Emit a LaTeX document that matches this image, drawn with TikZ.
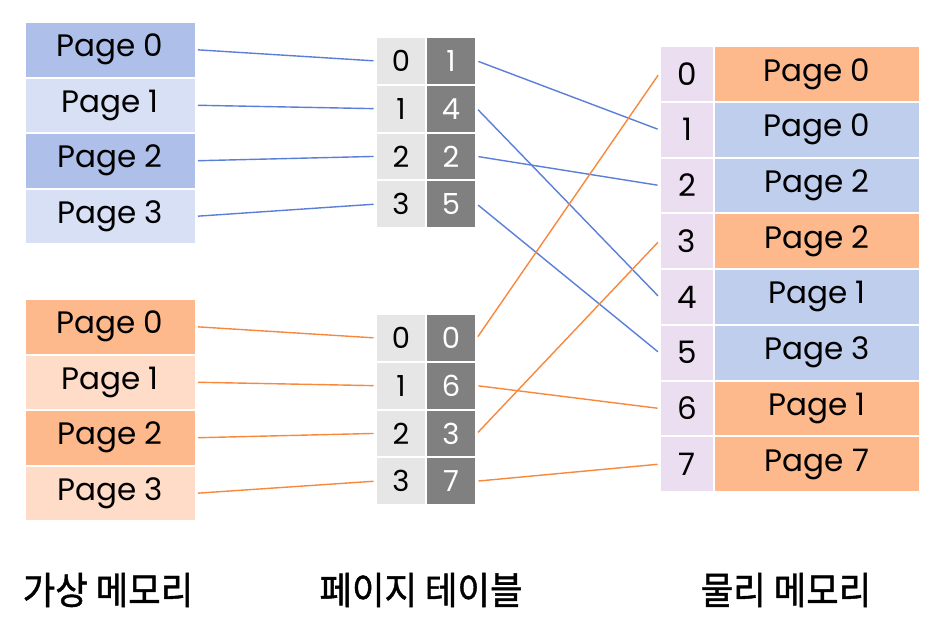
\documentclass[tikz,border=0pt]{standalone}
\usepackage{fontspec}
\setmainfont{Poppins}
\newfontfamily\krfont{Noto Sans CJK KR}[FakeBold=1.2]
\definecolor{vbdark}{HTML}{AEC0E9}
\definecolor{vblight}{HTML}{D7E0F5}
\definecolor{vodark}{HTML}{FDB98B}
\definecolor{volight}{HTML}{FEDCC7}
\definecolor{pblue}{HTML}{C0CEEE}
\definecolor{porange}{HTML}{FDB98B}
\definecolor{pidx}{HTML}{EBDEF0}
\definecolor{tlight}{HTML}{E6E6E6}
\definecolor{tdark}{HTML}{808080}
\definecolor{lblue}{HTML}{5B7FD8}
\definecolor{lorange}{HTML}{F7883C}
\tikzset{
  cell/.style={draw=white, line width=2pt, inner sep=0pt, font=\fontsize{31}{33}\selectfont, text=black},
  vcell/.style={cell, minimum width=171pt, minimum height=55.5pt},
  tcell/.style={cell, minimum width=50pt, minimum height=47.75pt, font=\fontsize{29}{31}\selectfont},
  icell/.style={cell, fill=pidx, minimum width=54pt, minimum height=55.75pt},
  pcell/.style={cell, minimum width=206pt, minimum height=55.75pt},
  conn/.style={line width=1.4pt, shorten <=1.5pt, shorten >=1.5pt},
  caption/.style={font=\krfont\fontsize{38}{40}\selectfont, text=black, xscale=0.93}
}
\begin{document}
\begin{tikzpicture}[x=1pt,y=-1pt]
\path[use as bounding box, fill=white] (0,0) rectangle (944,632);
% virtual memory - process A (blue)
\foreach \i/\c in {0/vbdark,1/vblight,2/vbdark,3/vblight}{
  \node[vcell, fill=\c] (va\i) at (110,{49.75+55.5*\i}) {Page \i};
}
% virtual memory - process B (orange)
\foreach \i/\c in {0/vodark,1/volight,2/vodark,3/volight}{
  \node[vcell, fill=\c] (vb\i) at (110,{326.75+55.5*\i}) {Page \i};
}
% page table A
\foreach \i/\f in {0/1,1/4,2/2,3/5}{
  \node[tcell, fill=tlight] (tal\i) at (401,{60.9+47.75*\i}) {\i};
  \node[tcell, fill=tdark, text=white] (tar\i) at (451,{60.9+47.75*\i}) {\f};
}
% page table B
\foreach \i/\f in {0/0,1/6,2/3,3/7}{
  \node[tcell, fill=tlight] (tbl\i) at (401,{337.9+47.75*\i}) {\i};
  \node[tcell, fill=tdark, text=white] (tbr\i) at (451,{337.9+47.75*\i}) {\f};
}
% physical memory
\foreach \i/\c/\p in {0/porange/0,1/pblue/0,2/pblue/2,3/porange/2,4/pblue/1,5/pblue/3,6/porange/1,7/porange/7}{
  \node[icell] (pi\i) at (687,{73.9+55.75*\i}) {\i};
  \node[pcell, fill=\c] (pp\i) at (817,{73.9+55.75*\i}) {Page \p};
}
% connectors
\foreach \i in {0,1,2,3}{
  \draw[conn, lblue] (va\i.east) -- (tal\i.west);
  \draw[conn, lorange] (vb\i.east) -- (tbl\i.west);
}
\draw[conn, lblue] (tar0.east) -- (pi1.west);
\draw[conn, lblue] (tar1.east) -- (pi4.west);
\draw[conn, lblue] (tar2.east) -- (pi2.west);
\draw[conn, lblue] (tar3.east) -- (pi5.west);
\draw[conn, lorange] (tbr0.east) -- (pi0.west);
\draw[conn, lorange] (tbr1.east) -- (pi6.west);
\draw[conn, lorange] (tbr2.east) -- (pi3.west);
\draw[conn, lorange] (tbr3.east) -- (pi7.west);
% captions
\node[caption] (c1) at (108,590) {가상 메모리};
\node[caption] (c2) at (421,590) {페이지 테이블};
\node[caption] (c3) at (786,590) {물리 메모리};
\end{tikzpicture}
\end{document}
